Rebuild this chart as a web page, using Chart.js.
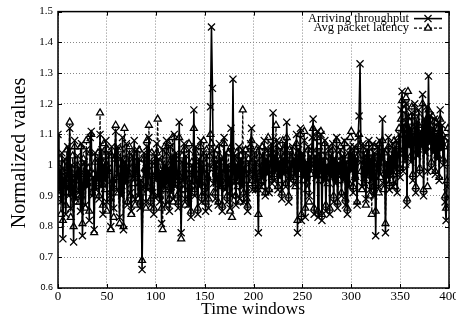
<!DOCTYPE html>
<html>
<head>
  <meta charset="UTF-8" />
  <title>Normalized values over time windows</title>
  <script src="https://cdn.jsdelivr.net/npm/chart.js"></script>
  <style>
    body { margin: 0; background: #fff; }
    canvas { display: block; }
  </style>
</head>
<body>
  <canvas id="chart" width="456" height="320"></canvas>

  <script>
    // values, one per time window (0..399)
    const throughput = [
      1.10, 0.92, 0.98, 0.88, 1.04, 0.76, 0.95, 1.02, 0.84, 0.97, 1.06, 0.90, 1.12, 0.86, 1.00, 0.93, 0.75, 1.08, 0.89, 0.96,
      1.03, 0.91, 0.99, 0.85, 1.07, 0.77, 0.94, 1.01, 0.87, 1.05, 0.93, 0.98, 0.82, 1.09, 1.11, 0.90, 0.96, 0.79, 1.04, 0.92,
      0.97, 1.02, 0.89, 1.10, 0.93, 1.05, 0.84, 1.00, 0.95, 1.08, 0.88, 0.99, 1.04, 0.91, 0.80, 1.06, 0.94, 0.86, 1.03, 1.11,
      0.92, 1.06, 0.97, 0.83, 1.02, 0.90, 1.09, 0.79, 1.01, 0.94, 1.07, 0.87, 0.99, 1.04, 0.91, 0.85, 1.03, 0.96, 1.08, 0.89,
      0.99, 1.05, 0.90, 1.02, 0.86, 0.95, 0.66, 0.93, 1.04, 0.97, 0.88, 1.06, 0.92, 1.09, 0.96, 0.87, 1.01, 0.91, 0.84, 1.03,
      0.95, 1.07, 0.90, 1.02, 0.88, 0.98, 0.81, 1.05, 0.93, 1.00, 0.87, 1.08, 0.94, 0.99, 0.85, 1.06, 0.91, 1.03, 0.89, 1.10,
      0.93, 1.04, 0.97, 0.86, 1.14, 0.92, 0.78, 1.01, 0.95, 1.07, 0.89, 1.03, 0.96, 0.87, 1.05, 0.91, 0.83, 1.00, 0.94, 1.18,
      0.90, 1.06, 0.95, 0.84, 1.02, 0.93, 1.08, 0.88, 0.99, 1.04, 0.91, 0.85, 1.03, 0.97, 0.86, 1.00, 1.19, 1.45, 1.25, 0.94,
      1.05, 0.89, 1.01, 0.96, 0.87, 1.07, 0.93, 1.02, 0.85, 0.98, 1.09, 0.92, 1.04, 0.88, 1.00, 0.95, 0.86, 1.12, 0.90, 1.28,
      0.94, 1.03, 0.87, 1.00, 0.96, 1.06, 0.89, 1.02, 0.93, 1.05, 0.88, 0.99, 1.04, 0.91, 0.85, 1.01, 0.97, 1.07, 1.12, 0.92,
      0.97, 1.04, 0.92, 1.01, 0.95, 0.78, 1.06, 0.99, 0.93, 1.03, 0.96, 1.08, 0.90, 1.02, 0.97, 1.05, 0.91, 1.00, 1.07, 0.94,
      1.17, 0.95, 1.03, 0.98, 1.08, 0.92, 1.01, 0.96, 1.05, 0.89, 1.02, 0.97, 1.07, 0.93, 1.14, 0.99, 0.88, 1.04, 0.95, 1.00,
      1.06, 0.94, 1.02, 0.97, 1.10, 0.78, 1.05, 0.99, 1.12, 0.82, 1.04, 0.96, 1.08, 0.83, 1.01, 0.95, 1.06, 0.90, 1.03, 0.98,
      1.09, 1.15, 0.84, 1.03, 0.96, 1.11, 0.83, 1.04, 0.98, 1.10, 0.82, 1.02, 0.95, 1.08, 0.85, 1.00, 0.97, 1.06, 0.84, 1.03,
      0.96, 1.07, 0.88, 1.02, 0.94, 1.09, 0.86, 1.00, 0.97, 1.05, 0.90, 1.03, 0.95, 1.08, 0.87, 1.01, 0.84, 1.04, 0.93, 1.06,
      0.98, 1.04, 0.91, 1.06, 0.95, 1.02, 0.87, 1.09, 1.16, 1.33, 1.01, 0.93, 1.07, 0.96, 1.03, 0.89, 1.05, 0.97, 1.08, 0.92,
      1.02, 0.95, 1.07, 0.90, 1.04, 0.77, 1.00, 1.06, 0.93, 1.08, 0.97, 1.03, 1.15, 0.94, 1.05, 0.78, 1.01, 0.96, 1.09, 0.92,
      1.03, 0.97, 1.07, 0.93, 1.05, 0.99, 1.08, 0.91, 1.04, 1.10, 0.96, 1.18, 1.24, 0.98, 1.13, 1.02, 1.20, 0.87, 1.16, 1.06,
      1.12, 1.01, 1.17, 0.95, 1.09, 1.20, 0.91, 1.14, 1.03, 1.18, 0.97, 1.11, 1.06, 1.23, 0.90, 1.15, 1.04, 1.19, 0.98, 1.29,
      1.07, 1.16, 0.99, 1.12, 1.04, 1.15, 0.97, 1.10, 1.02, 1.14, 0.95, 1.18, 1.05, 1.13, 1.00, 1.09, 0.88, 0.82, 0.93, 1.08
    ];
    const latency = [
      0.95, 0.90, 1.02, 0.84, 0.98, 0.82, 1.00, 0.93, 0.87, 1.05, 0.91, 0.99, 1.14, 0.83, 0.96, 1.03, 0.80, 1.06, 0.92, 0.88,
      1.00, 0.95, 0.88, 1.06, 0.90, 0.81, 1.02, 0.97, 0.86, 1.08, 0.94, 0.99, 0.85, 1.04, 1.10, 0.91, 0.97, 0.78, 1.01, 0.93,
      0.94, 1.04, 0.90, 1.17, 0.96, 1.01, 0.87, 1.07, 0.92, 1.00, 0.85, 1.05, 0.98, 0.89, 0.79, 1.03, 0.95, 0.83, 1.02, 1.13,
      0.96, 1.03, 0.91, 0.81, 1.05, 0.93, 1.00, 0.80, 1.12, 0.95, 1.02, 0.88, 0.97, 1.06, 0.90, 0.84, 1.01, 0.94, 1.04, 0.87,
      1.01, 0.97, 0.89, 1.05, 0.88, 0.94, 0.69, 0.91, 1.02, 0.99, 0.86, 1.08, 0.93, 1.13, 0.98, 0.89, 1.04, 0.90, 0.86, 1.00,
      0.97, 1.04, 1.15, 0.96, 0.90, 1.01, 0.86, 0.79, 0.98, 1.06, 0.92, 1.03, 0.87, 1.07, 0.89, 1.00, 0.94, 1.09, 0.88, 1.02,
      0.95, 1.02, 0.90, 0.88, 1.09, 0.96, 0.76, 1.03, 0.92, 1.05, 0.87, 1.00, 0.97, 0.89, 1.07, 0.93, 0.85, 1.01, 0.98, 1.12,
      0.92, 1.04, 0.97, 0.86, 1.00, 0.95, 1.06, 0.90, 1.02, 1.08, 0.93, 0.88, 1.05, 0.96, 0.89, 1.03, 1.10, 1.07, 0.99, 0.91,
      1.02, 0.91, 0.98, 1.05, 0.88, 1.03, 0.96, 0.93, 0.87, 1.01, 1.07, 0.94, 0.99, 0.90, 1.04, 0.97, 0.85, 1.06, 0.83, 1.00,
      0.96, 1.01, 0.90, 1.04, 0.93, 1.00, 0.88, 1.03, 0.95, 1.18, 0.91, 0.97, 1.05, 0.89, 0.87, 1.02, 0.94, 1.06, 1.08, 0.95,
      0.99, 1.02, 0.94, 1.05, 0.92, 0.84, 1.03, 0.97, 0.95, 1.06, 0.93, 1.01, 0.91, 1.04, 0.98, 1.09, 0.92, 1.02, 1.05, 0.96,
      1.04, 0.97, 1.01, 1.13, 0.99, 0.93, 1.06, 0.95, 1.02, 0.91, 1.08, 0.98, 1.03, 0.94, 1.09, 1.00, 0.90, 1.05, 0.96, 1.02,
      1.03, 0.96, 1.00, 0.93, 1.07, 0.82, 1.04, 0.97, 1.10, 0.84, 1.02, 0.95, 1.11, 0.86, 0.99, 0.92, 1.05, 0.88, 1.01, 0.97,
      1.05, 1.12, 0.86, 1.00, 0.97, 1.09, 0.85, 1.06, 0.95, 1.11, 0.84, 1.03, 0.98, 1.07, 0.87, 1.01, 0.94, 1.04, 0.86, 1.00,
      0.98, 1.05, 0.90, 1.01, 0.96, 1.08, 0.88, 1.03, 0.95, 1.06, 0.91, 1.00, 0.97, 1.07, 0.89, 1.02, 0.86, 1.03, 0.94, 1.09,
      1.11, 1.00, 0.93, 1.04, 0.96, 1.05, 0.88, 1.03, 1.10, 1.06, 0.98, 0.92, 1.05, 0.94, 1.01, 0.87, 1.04, 0.95, 1.07, 0.90,
      1.04, 0.84, 1.02, 0.93, 1.06, 0.85, 0.99, 1.03, 0.91, 1.07, 0.96, 1.01, 1.08, 0.92, 1.04, 0.81, 0.99, 0.95, 1.06, 0.94,
      1.01, 0.95, 1.05, 0.97, 1.08, 0.93, 1.03, 0.98, 1.06, 1.12, 0.99, 1.15, 1.21, 1.04, 1.18, 1.00, 1.22, 0.89, 1.24, 1.09,
      1.14, 1.03, 1.19, 0.97, 1.11, 1.16, 0.93, 1.17, 1.05, 1.13, 0.99, 1.08, 1.10, 1.20, 0.92, 1.12, 1.06, 1.15, 0.93, 1.18,
      1.10, 1.13, 1.01, 1.16, 1.06, 1.11, 0.98, 1.14, 1.03, 1.12, 0.96, 1.15, 1.07, 1.10, 1.02, 1.06, 0.90, 0.86, 0.95, 1.12
    ];
    const seriesNames = ['Arriving throughput', 'Avg packet latency'];
    const xTitle = 'Time windows';
    const yTitle = 'Normalized values';

    const SERIF = '"Liberation Serif", "Times New Roman", serif';

    function toPoints(values) {
      return values.map((v, i) => ({ x: i, y: v }));
    }

    // frame, inward ticks, gnuplot-style key and axis titles
    const decorPlugin = {
      id: 'decor',
      afterDatasetsDraw(chart) {
        const { ctx, chartArea: a, scales } = chart;
        ctx.save();

        // key box (covers the grid behind it)
        ctx.fillStyle = '#fff';
        ctx.fillRect(303, a.top + 1, a.right - 304, 28);
        const rows = [
          { label: seriesNames[0], dash: [], style: 'crossRot', radius: 5, width: 1.6 },
          { label: seriesNames[1], dash: [3, 2], style: 'triangle', radius: 4, width: 1.2 }
        ];
        ctx.font = '12.5px ' + SERIF;
        ctx.textAlign = 'right';
        ctx.textBaseline = 'middle';
        rows.forEach((r, k) => {
          const y = a.top + 7 + k * 9.5;
          ctx.fillStyle = '#000';
          ctx.fillText(r.label, 409, y);
          ctx.strokeStyle = '#000';
          ctx.lineWidth = r.width;
          ctx.setLineDash(r.dash);
          ctx.beginPath();
          ctx.moveTo(414, y);
          ctx.lineTo(442, y);
          ctx.stroke();
          ctx.setLineDash([]);
          ctx.fillStyle = '#fff';
          ctx.lineWidth = 1.3;
          Chart.helpers.drawPoint(ctx, { pointStyle: r.style, radius: r.radius, borderWidth: 1.3, rotation: 0 }, 428, y);
        });

        // inward tick marks
        ctx.strokeStyle = '#000';
        ctx.lineWidth = 1;
        ctx.beginPath();
        scales.x.ticks.forEach(t => {
          const px = Math.round(scales.x.getPixelForValue(t.value)) + 0.5;
          ctx.moveTo(px, a.bottom); ctx.lineTo(px, a.bottom - 4);
          ctx.moveTo(px, a.top); ctx.lineTo(px, a.top + 4);
        });
        scales.y.ticks.forEach(t => {
          const py = Math.round(scales.y.getPixelForValue(t.value)) + 0.5;
          ctx.moveTo(a.left, py); ctx.lineTo(a.left + 4, py);
          ctx.moveTo(a.right, py); ctx.lineTo(a.right - 4, py);
        });
        ctx.stroke();

        // frame
        ctx.lineWidth = 1.5;
        ctx.strokeRect(a.left, a.top, a.right - a.left, a.bottom - a.top);

        // axis titles
        ctx.fillStyle = '#000';
        ctx.textAlign = 'center';
        ctx.textBaseline = 'middle';
        ctx.font = '17.5px ' + SERIF;
        ctx.fillText(xTitle, 253, 309);
        ctx.translate(20, 153);
        ctx.rotate(-Math.PI / 2);
        ctx.font = '20px ' + SERIF;
        ctx.fillText(yTitle, 0, 0);
        ctx.restore();
      }
    };

    new Chart(document.getElementById('chart'), {
      type: 'line',
      data: {
        datasets: [
          {
            label: seriesNames[0],
            data: toPoints(throughput),
            borderColor: '#000',
            borderWidth: 1.6,
            pointStyle: 'crossRot',
            pointRadius: 5,
            pointBorderWidth: 1.3,
            pointBorderColor: '#000',
            tension: 0
          },
          {
            label: seriesNames[1],
            data: toPoints(latency),
            borderColor: '#000',
            borderWidth: 1.2,
            borderDash: [3, 2],
            pointStyle: 'triangle',
            pointRadius: 4,
            pointBorderWidth: 1.3,
            pointBorderColor: '#000',
            pointBackgroundColor: '#fff',
            tension: 0
          }
        ]
      },
      options: {
        responsive: false,
        animation: false,
        layout: { padding: { top: 9, right: 7, left: 0, bottom: 0 } },
        plugins: { legend: { display: false }, tooltip: { enabled: false } },
        scales: {
          x: {
            type: 'linear',
            min: 0,
            max: 400,
            ticks: {
              stepSize: 50,
              color: '#000',
              padding: 1,
              maxRotation: 0,
              font: { family: SERIF, size: 13 }
            },
            grid: { color: '#888', lineWidth: 1, drawTicks: false },
            border: { display: false, dash: [1, 2] },
            afterFit(scale) {
              scale.height = 32;
              scale.paddingRight = 0;
              scale.paddingLeft = 0;
            }
          },
          y: {
            min: 0.6,
            max: 1.5,
            ticks: {
              stepSize: 0.1,
              color: '#000',
              padding: 5,
              callback: v => String(+v.toFixed(1)),
              font: c => (c.tick && c.tick.value < 0.65)
                ? { family: '"Liberation Sans", sans-serif', size: 9 }
                : { family: SERIF, size: 11 }
            },
            grid: { color: '#888', lineWidth: 1, drawTicks: false },
            border: { display: false, dash: [1, 2] },
            afterFit(scale) {
              scale.width = 58;
            }
          }
        }
      },
      plugins: [decorPlugin]
    });
  </script>
</body>
</html>
